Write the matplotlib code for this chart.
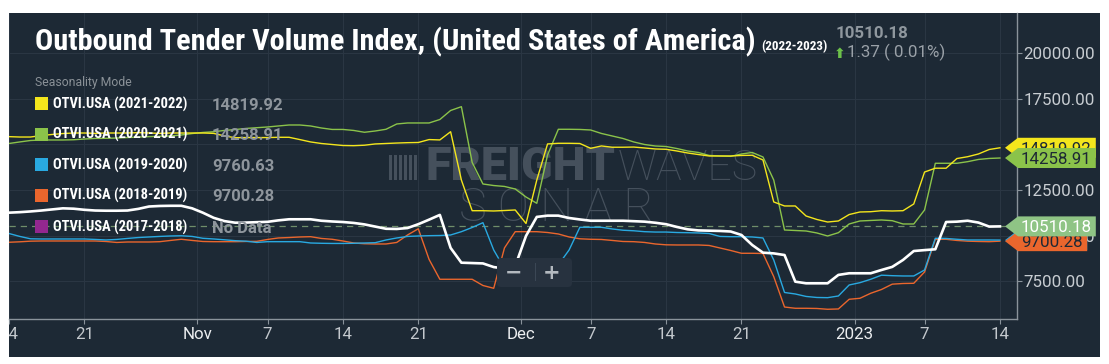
import matplotlib
matplotlib.use("Agg")
import matplotlib.pyplot as plt
import matplotlib.dates as mdates
import matplotlib.patches as mpatches
import matplotlib.transforms as mtransforms
from matplotlib import font_manager
import pandas as pd

W, H, DPI = 1109, 364, 100
BG = "#1d2935"

# daily values, Oct 14 2022 .. Jan 14 2023 (seasonality mode, aligned by day)
DATES = pd.date_range("2022-10-14 12:00", "2023-01-14 12:00", freq="D")

OTVI_2223 = [
    11262, 11290, 11330, 11380, 11440, 11500, 11480, 11420, 11380, 11370,
    11370, 11380, 11470, 11600, 11630, 11640, 11640, 11500, 11260, 10980,
    10800, 10713, 10720, 10740, 10760, 10840, 10900, 10900, 10900, 10820,
    10780, 10750, 10700, 10620, 10500, 10380, 10370, 10420, 10630, 10880,
    11140, 9330, 8520, 8500, 8480, 8280, 8200, 8340, 9990, 11030,
    11100, 11100, 10970, 10890, 10820, 10820, 10820, 10820, 10795, 10770,
    10710, 10630, 10480, 10350, 10290, 10275, 10260, 10230, 10040, 9490,
    9070, 9030, 8940, 7480, 7390, 7390, 7390, 7850, 7940, 7940,
    7940, 8120, 8290, 8670, 9160, 9210, 9255, 10750, 10770, 10820,
    10720, 10500, 10510.18,
]
OTVI_2122 = [
    15430, 15410, 15410, 15490, 15550, 15600, 15630, 15630, 15610, 15630,
    15630, 15630, 15650, 15630, 15610, 15630, 15630, 15630, 15630, 15610,
    15470, 15370, 15380, 15380, 15380, 15395, 15395, 15270, 15140, 15055,
    15000, 14945, 14935, 14960, 15030, 15055, 15080, 15100, 15110, 15270,
    15250, 15700, 13050, 11370, 11370, 11355, 11380, 11410, 10670, 13050,
    15030, 15066, 15066, 15055, 14790, 14920, 14850, 14850, 14860, 14810,
    14755, 14737, 14645, 14535, 14450, 14370, 14370, 14370, 14400, 14410,
    14150, 11850, 11630, 11630, 11080, 10890, 10750, 10807, 11160, 11300,
    11315, 11370, 11355, 11370, 11740, 13490, 13700, 13700, 14230, 14330,
    14480, 14725, 14819.92,
]
OTVI_2021 = [
    15055, 15140, 15220, 15247, 15247, 15247, 15260, 15300, 15330, 15340,
    15355, 15380, 15410, 15430, 15450, 15467, 15520, 15600, 15660, 15700,
    15770, 15820, 15880, 15920, 15960, 16015, 16069, 16069, 16015, 15905,
    15825, 15825, 15770, 15670, 15740, 15834, 16125, 16180, 16180, 16180,
    16370, 16865, 17073, 14015, 12835, 12750, 12700, 12560, 12120, 11777,
    14425, 15834, 15834, 15825, 15795, 15605, 15467, 15330, 15140, 15000,
    14918, 14890, 14780, 14645, 14562, 14400, 14370, 14350, 14480, 14562,
    14315, 13050, 10313, 10285, 10258, 10150, 9984, 10165, 10642, 10807,
    10835, 10862, 10823, 10642, 10642, 11410, 13970, 13970, 13970, 14058,
    14180, 14235, 14258.91,
]
OTVI_1920 = [
    10120, 9960, 9830, 9820, 9820, 9820, 9820, 9820, 9795, 9765,
    9795, 9850, 9900, 9930, 9960, 9984, 9995, 9960, 9858, 9820,
    9775, 9727, 9700, 9630, 9672, 9672, 9672, 9672, 9600, 9584,
    9575, 9575, 9584, 9600, 9617, 9765, 9875, 9960, 9984, 10001,
    10010, 10039, 10220, 10450, 10714, 9217, 8200, 7900, 7850, 7850,
    7900, 8400, 9217, 10461, 10461, 10461, 10370, 10300, 10270, 10220,
    10200, 10200, 10175, 10165, 10150, 10120, 9960, 9946, 9946, 9930,
    9875, 8669, 6887, 6805, 6670, 6613, 6602, 6695, 7298, 7424,
    7611, 7835, 7808, 7792, 7792, 8120, 9858, 9850, 9804, 9765,
    9765, 9765, 9760.63,
]
OTVI_1819 = [
    9640, 9665, 9700, 9710, 9710, 9710, 9710, 9710, 9710, 9683,
    9630, 9655, 9655, 9655, 9672, 9740, 9804, 9740, 9683, 9672,
    9672, 9672, 9683, 9690, 9793, 9875, 9900, 9930, 9946, 9850,
    9804, 9710, 9600, 9560, 9546, 9546, 9630, 10039, 10380, 8700,
    7611, 7611, 7611, 7611, 7270, 7117, 9330, 10220, 10220, 10220,
    10175, 10094, 9930, 9830, 9804, 9793, 9740, 9683, 9672, 9630,
    9546, 9500, 9491, 9491, 9491, 9465, 9327, 9190, 9036, 9036,
    9025, 7754, 6090, 6021, 6021, 6010, 5966, 5983, 6514, 6569,
    6843, 7050, 7343, 7380, 7391, 8010, 9804, 9804, 9740, 9700,
    9683, 9672, 9700.28,
]

LEGEND = [
    ("OTVI.USA (2021-2022)", "#f4e61c", OTVI_2122),
    ("OTVI.USA (2020-2021)", "#8bc34a", OTVI_2021),
    ("OTVI.USA (2019-2020)", "#29a9e1", OTVI_1920),
    ("OTVI.USA (2018-2019)", "#ea662d", OTVI_1819),
    ("OTVI.USA (2017-2018)", "#93278f", None),
]
CURRENT_COLOR = "#ffffff"
CURRENT_TAG = "#8fc485"
CHANGE = "1.37 ( 0.01%)"

Y_TICKS = [7500, 10000, 12500, 15000, 17500, 20000]
DAY_TICKS = ["2022-10-14 12:00", "2022-10-21 12:00", "2022-11-07 12:00",
             "2022-11-14 12:00", "2022-11-21 12:00", "2022-12-07 12:00",
             "2022-12-14 12:00", "2022-12-21 12:00", "2023-01-07 12:00",
             "2023-01-14 12:00"]
MONTH_TICKS = ["2022-11-01", "2022-12-01", "2023-01-01"]
MONTH_LABELS = ["Nov", "Dec", "2023"]

for s in [OTVI_2223, OTVI_2122, OTVI_2021, OTVI_1920, OTVI_1819]:
    assert len(s) == len(DATES)

names = {f.name for f in font_manager.fontManager.ttflist}


def pick(*cands):
    for c in cands:
        if c in names:
            return c
    return "DejaVu Sans"


NARROW = pick("Roboto Condensed", "Liberation Sans Narrow", "DejaVu Sans")
ROBOTO = pick("Roboto", "DejaVu Sans")

fig = plt.figure(figsize=(W / DPI, H / DPI), dpi=DPI, facecolor="white")
# pixel coords measured from the top-left corner of the image
PX = mtransforms.Affine2D().scale(1, -1).translate(0, H).scale(1 / DPI) + fig.dpi_scale_trans

fig.add_artist(mpatches.Rectangle((9, 13), 1091, 344, transform=PX,
                                  facecolor=BG, edgecolor="none", zorder=-10))

ax = fig.add_axes([9 / W, 1 - 319 / H, (1017 - 9) / W, (319 - 13) / H])
ax.set_facecolor(BG)

ax.plot(DATES, OTVI_1819, color=LEGEND[3][1], lw=1.0, zorder=2)
ax.plot(DATES, OTVI_1920, color=LEGEND[2][1], lw=1.0, zorder=2)
ax.plot(DATES, OTVI_2021, color=LEGEND[1][1], lw=1.0, zorder=2)
ax.plot(DATES, OTVI_2122, color=LEGEND[0][1], lw=1.0, zorder=2)
ax.plot(DATES, OTVI_2223, color=CURRENT_COLOR, lw=1.9, zorder=3)
ax.axhline(OTVI_2223[-1], color="#6f8e6a", lw=0.9, dashes=(5, 4), zorder=1.8)

ax.set_xlim(mdates.date2num(pd.Timestamp("2022-10-14 18:00")),
            mdates.date2num(pd.Timestamp("2023-01-16 02:00")))
ax.set_ylim(5433, 22209)

ticks = [(pd.Timestamp(d), str(pd.Timestamp(d).day)) for d in DAY_TICKS]
ticks += [(pd.Timestamp(d), lab) for d, lab in zip(MONTH_TICKS, MONTH_LABELS)]
ticks.sort()
ax.set_xticks([mdates.date2num(t) for t, _ in ticks])
ax.set_xticklabels([lab for _, lab in ticks])
ax.set_yticks(Y_TICKS)
ax.set_yticklabels([f"{v:.2f}" for v in Y_TICKS])

ax.yaxis.tick_right()
for side in ["top", "left"]:
    ax.spines[side].set_visible(False)
for side in ["bottom", "right"]:
    ax.spines[side].set_color("#8a939b")
    ax.spines[side].set_linewidth(1.0)
ax.tick_params(axis="x", colors="#8a939b", length=3.6, width=0.8, pad=2.4,
               labelsize=12.2, labelcolor="#c3c8cd")
ax.tick_params(axis="y", colors="#8a939b", length=3.6, width=0.8, pad=0.8,
               labelsize=12.2, labelcolor="#c8cdd2")
ax.grid(True, color="#2a3643", lw=0.8)
ax.set_axisbelow(True)

clip = mtransforms.TransformedBbox(
    mtransforms.Bbox.from_extents(9 / W, 1 - 357 / H, 1100 / W, 1 - 13 / H), fig.transFigure)
for lab in ax.get_xticklabels() + ax.get_yticklabels():
    lab.set_fontfamily(ROBOTO)
    lab.set_clip_box(clip)
    lab.set_clip_on(True)
    if lab.get_text() in MONTH_LABELS:
        lab.set_color("#eceef0")

renderer = fig.canvas.get_renderer()


def fit(t, width):
    ext = t.get_window_extent(renderer).width
    t.set_fontsize(t.get_fontsize() * width / ext)


# watermark
WM = "#45505c"
wm_bold = ax.text(615, 180, "FREIGHT", transform=PX, ha="right", va="baseline", fontsize=29,
                  fontweight="black", family=ROBOTO, color=WM, zorder=0.8)
wm_light = ax.text(618, 180, "WAVES", transform=PX, ha="left", va="baseline", fontsize=29,
                   fontweight="light", family=ROBOTO, color=WM, zorder=0.8)
fit(wm_bold, 190)
fit(wm_light, 140)
left = 615 - 190
for i in range(6):
    ax.add_patch(mpatches.Rectangle((left - 36 + i * 5, 155), 3, 25, transform=PX,
                                    facecolor=WM, edgecolor="none", zorder=0.8, clip_on=False))
wm_sonar = ax.text(556, 221, "S O N A R", transform=PX, ha="center", va="baseline", fontsize=29,
                   fontweight="light", family=ROBOTO, color=WM, zorder=0.8)
fit(wm_sonar, 195)


# value tags on the right edge
def tag(value, color, text, tcolor, z):
    w = 10 + 8.6 * len(text)
    verts = [(-12, 0), (1, 10), (w, 10), (w, -10), (1, -10)]
    tr = (mtransforms.Affine2D().scale(1 / DPI) + fig.dpi_scale_trans
          + mtransforms.ScaledTranslation(1.0, value, ax.get_yaxis_transform()))
    ax.add_patch(mpatches.Polygon(verts, closed=True, transform=tr, facecolor=color,
                                  edgecolor="none", clip_on=False, zorder=z))
    ax.annotate(text, xy=(1.0, value), xycoords=ax.get_yaxis_transform(),
                xytext=(4, -6), textcoords="offset pixels", fontsize=12.2,
                family=ROBOTO, color=tcolor, va="baseline", ha="left",
                annotation_clip=False, zorder=z + 0.1)


tag(OTVI_2122[-1], LEGEND[0][1], f"{OTVI_2122[-1]:.2f}", "#1d2935", 10)
tag(OTVI_2021[-1], LEGEND[1][1], f"{OTVI_2021[-1]:.2f}", "#1d2935", 11)
tag(OTVI_1920[-1], LEGEND[2][1], f"{OTVI_1920[-1]:.2f}", "#1d2935", 12)
tag(OTVI_1819[-1], LEGEND[3][1], f"{OTVI_1819[-1]:.2f}", "#1d2935", 13)
tag(OTVI_2223[-1], CURRENT_TAG, f"{OTVI_2223[-1]:.2f}", "#ffffff", 14)

title = fig.text(35, 50, "Outbound Tender Volume Index, (United States of America)",
                 transform=PX, fontsize=22, fontweight="bold", family=NARROW,
                 color="white", va="baseline")
fit(title, 720)
suffix = fig.text(761, 50, "(2022-2023)", transform=PX, fontsize=9, fontweight="bold",
                  family=NARROW, color="white", va="baseline")
fit(suffix, 66)

fig.text(836, 38, f"{OTVI_2223[-1]:.2f}", transform=PX, fontsize=12.2, fontweight="bold",
         family=ROBOTO, color="#8f979e", va="baseline")
fig.text(834, 57.5, "\u2b06", transform=PX, fontsize=10, fontweight="bold",
         family="DejaVu Sans", color="#6cc04a", va="baseline")
fig.text(847, 57, CHANGE, transform=PX, fontsize=12.2, family=ROBOTO,
         color="#9aa1a8", va="baseline")

# legend
fig.text(35, 86, "Seasonality Mode", transform=PX, fontsize=8.8, family=ROBOTO,
         color="#8a9197", va="baseline")
row_y = [103.3, 134, 164.5, 195, 226.7]
label_size = None
for (label, color, series), yc in zip(LEGEND, row_y):
    fig.add_artist(mpatches.Rectangle((35, yc - 6.5), 13, 13, transform=PX,
                                      facecolor=color, edgecolor="none", zorder=5))
    t = fig.text(53, yc + 5, label, transform=PX, fontsize=10.5, fontweight="bold",
                 family=NARROW, color="white", va="baseline", zorder=6)
    if label_size is None:
        fit(t, 135)
        label_size = t.get_fontsize()
    t.set_fontsize(label_size)
    val = f"{series[-1]:.2f}" if series is not None else "No Data"
    fig.text(212, yc + 6.3, val, transform=PX, fontsize=12, fontweight="bold",
             family=ROBOTO, color="#8e959c", va="baseline", zorder=6)

# zoom buttons
fig.add_artist(mpatches.FancyBboxPatch((497, 258), 75, 29, transform=PX,
                                       boxstyle="round,pad=0,rounding_size=4",
                                       facecolor="#27323f", edgecolor="none", zorder=4))
fig.add_artist(mpatches.Rectangle((534.5, 263), 1, 18, transform=PX,
                                  facecolor="#3b4755", edgecolor="none", zorder=4.5))
fig.text(514, 273, "\u2212", transform=PX, fontsize=15, fontweight="bold",
         family="DejaVu Sans", color="#b3b9bf", ha="center", va="center", zorder=5)
fig.text(552, 273, "+", transform=PX, fontsize=15, fontweight="bold",
         family="DejaVu Sans", color="#b3b9bf", ha="center", va="center", zorder=5)

fig.savefig("out.png", dpi=DPI, facecolor="white")
